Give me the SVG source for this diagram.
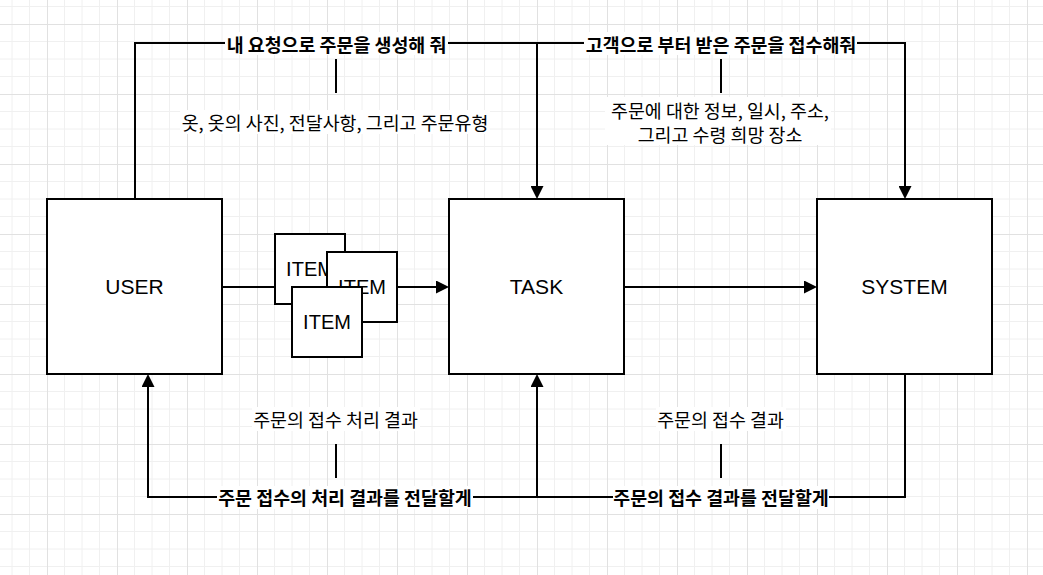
<svg xmlns="http://www.w3.org/2000/svg" width="1043" height="575" viewBox="0 0 1043 575">
  <defs>
    <pattern id="grid" patternUnits="userSpaceOnUse" x="47" y="24" width="70" height="70">
      <path d="M17.5,0V70M35,0V70M52.5,0V70M0,17.5H70M0,35H70M0,52.5H70" stroke="#f0f0f0" stroke-width="1" fill="none"/>
      <path d="M0.5,0V70M0,0.5H70" stroke="#e1e1e1" stroke-width="1" fill="none"/>
    </pattern>
    <marker id="arrow" viewBox="0 0 13 13" markerWidth="13" markerHeight="13" markerUnits="userSpaceOnUse" refX="1" refY="6.5" orient="auto">
      <path d="M0,0L13,6.5L0,13z" fill="#000"/>
    </marker>
    <style>
      .node rect { fill: #ffffff; stroke: #000000; stroke-width: 2; }
      .node text { font-family: "Liberation Sans", Arial, sans-serif; font-size: 21px; fill: #000; text-anchor: middle; dominant-baseline: central; }
      .item text { font-size: 20px; }
      .edge { fill: none; stroke: #000; stroke-width: 2; }
      .arr { marker-end: url(#arrow); }
      .bg { fill: #ffffff; }
      .lbl { font-family: "Noto Sans CJK KR", "Noto Sans", sans-serif; font-size: 18.4px; fill: #000; text-anchor: middle; dominant-baseline: central; }
      .b { font-weight: bold; }
    </style>
  </defs>
  <rect x="0" y="0" width="1043" height="575" fill="#ffffff"/>
  <rect x="0" y="0" width="1043" height="575" fill="url(#grid)"/>

  <g id="connectors">
    <path class="edge arr" d="M135,199V43H537V187"/>
    <path class="edge arr" d="M537,43H905V187"/>
    <path class="edge arr" d="M222,287H437"/>
    <path class="edge arr" d="M624,287H805"/>
    <path class="edge arr" d="M905,374V497H537V386"/>
    <path class="edge arr" d="M537,497H148V386"/>
    <path class="edge" d="M336,59V93M721,59V93M336,444V478M721,444V478"/>
  </g>

  <g id="labels">
    <rect class="bg" x="225" y="32" width="223" height="23"/>
    <text class="lbl b" x="336.5" y="43.5">내 요청으로 주문을 생성해 줘</text>
    <rect class="bg" x="584" y="32" width="273" height="23"/>
    <text class="lbl b" x="721" y="43.5">고객으로 부터 받은 주문을 접수해줘</text>
    <rect class="bg" x="180" y="110" width="310" height="24"/>
    <text class="lbl" x="335" y="122">옷, 옷의 사진, 전달사항, 그리고 주문유형</text>
    <rect class="bg" x="605" y="97" width="226" height="48"/>
    <text class="lbl" x="720" y="109.5">주문에 대한 정보, 일시, 주소,</text>
    <text class="lbl" x="720" y="133.5">그리고 수령 희망 장소</text>
    <rect class="bg" x="252" y="407" width="168" height="24"/>
    <text class="lbl" x="335.5" y="419">주문의 접수 처리 결과</text>
    <rect class="bg" x="656" y="407" width="130" height="24"/>
    <text class="lbl" x="720.5" y="419">주문의 접수 결과</text>
    <rect class="bg" x="217" y="486" width="256" height="23"/>
    <text class="lbl b" x="345" y="497">주문 접수의 처리 결과를 전달할게</text>
    <rect class="bg" x="613" y="486" width="216" height="23"/>
    <text class="lbl b" x="721" y="497">주문의 접수 결과를 전달할게</text>
  </g>

  <g id="user" class="node">
    <rect x="47" y="199" width="175" height="175"/>
    <text x="134.5" y="286.5">USER</text>
  </g>
  <g id="task" class="node">
    <rect x="449" y="199" width="175" height="175"/>
    <text x="536.5" y="286.5">TASK</text>
  </g>
  <g id="system" class="node">
    <rect x="817" y="199" width="175" height="175"/>
    <text x="904.5" y="286.5">SYSTEM</text>
  </g>
  <g id="item1" class="node item">
    <rect x="275" y="234" width="70" height="70"/>
    <text x="310" y="269">ITEM</text>
  </g>
  <g id="item2" class="node item">
    <rect x="327" y="252" width="70" height="70"/>
    <text x="362" y="287">ITEM</text>
  </g>
  <g id="item3" class="node item">
    <rect x="292" y="287" width="70" height="70"/>
    <text x="327" y="322">ITEM</text>
  </g>
</svg>
